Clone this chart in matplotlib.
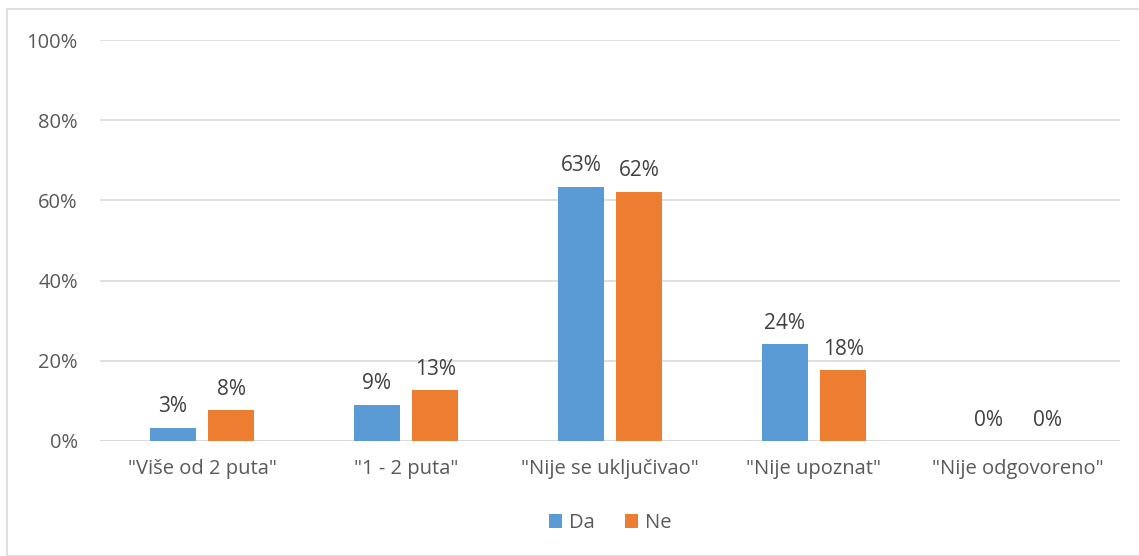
import numpy as np
import matplotlib.pyplot as plt
from matplotlib.patches import Rectangle
from matplotlib.ticker import FuncFormatter

categories = ['"Više od 2 puta"', '"1 - 2 puta"', '"Nije se uključivao"', '"Nije upoznat"', '"Nije odgovoreno"']
da = [3.3, 9.0, 63.4, 24.2, 0.0]
ne = [7.7, 12.7, 62.2, 17.7, 0.0]
series_names = ['Da', 'Ne']
colors = ['#5B9BD5', '#ED7D31']
text_color = '#595959'

plt.rcParams['font.family'] = ['Open Sans', 'DejaVu Sans']

fig = plt.figure(figsize=(11.39, 5.56), dpi=100)
fig.patches.append(Rectangle((7 / 1139, 0), 1.2, 1 - 9 / 556, transform=fig.transFigure,
                             fill=False, edgecolor='#D9D9D9', lw=1.2))
ax = fig.add_axes([100 / 1139, 1 - 441 / 556, 1020 / 1139, 401 / 556])

x = np.arange(len(categories))
w = 0.225
gap = 0.06
for i, (vals, name) in enumerate(zip([da, ne], series_names)):
    offs = (i - 0.5) * (w + gap)
    bars = ax.bar(x + offs, vals, w, color=colors[i], label=name, zorder=3)
    for b, v in zip(bars, vals):
        ax.text(b.get_x() + b.get_width() / 2, v + 2.6, f'{round(v):.0f}%',
                ha='center', va='bottom', fontsize=15, color='#404040')

ax.set_xlim(-0.5, len(categories) - 0.5)
ax.set_ylim(0, 100)
ax.set_yticks(range(0, 101, 20))
ax.yaxis.set_major_formatter(FuncFormatter(lambda v, p: f'{v:.0f}%'))
ax.set_xticks(x)
ax.set_xticklabels(categories)
ax.tick_params(axis='both', length=0, labelsize=14.5, labelcolor=text_color)
ax.tick_params(axis='y', pad=16)
ax.tick_params(axis='x', pad=13)
ax.grid(axis='y', color='#D9D9D9', lw=1.2, zorder=0)
for s in ax.spines.values():
    s.set_visible(False)
ax.axhline(0, color='#D9D9D9', lw=1.2, zorder=2)

ax.legend(loc='center', bbox_to_anchor=(0.5, -(523 - 441) / 401),
          ncol=2, frameon=False, fontsize=14.5, handlelength=0.65, handleheight=0.65,
          columnspacing=1.5, handletextpad=0.35, labelcolor=text_color)

fig.savefig('out.png', dpi=100)
